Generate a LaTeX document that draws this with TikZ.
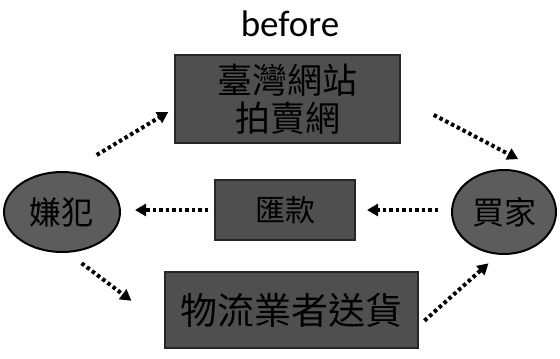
\documentclass[tikz,border=0pt]{standalone}
\usepackage{fontspec}
\setmainfont{Carlito}
\newfontfamily\cjk{Noto Sans CJK TC}
\usetikzlibrary{arrows.meta,shapes.geometric}
\definecolor{boxgray}{HTML}{4F4F4F}
\definecolor{ellgray}{HTML}{5C5C5C}
\tikzset{
  x=1pt,y=-1pt,
  darkbox/.style={draw=black!85,line width=1.5pt,fill=boxgray,inner sep=0pt,
    text=black,align=center},
  party/.style={ellipse,draw=black,line width=2pt,fill=ellgray,inner sep=0pt,
    font=\cjk\fontsize{32}{38}\selectfont,text=black},
  flow/.style={line width=4pt,dash pattern=on 3.5pt off 3pt,
    -{Triangle[length=11pt,width=12pt]},shorten <=2pt,shorten >=2pt},
}
\begin{document}
\begin{tikzpicture}
\useasboundingbox (0,0) rectangle (560,359);
\fill[white] (0,0) rectangle (560,359);
\node[font=\fontsize{37}{42}\selectfont] (title) at (290,24) {before};
\node[darkbox,minimum width=225pt,minimum height=88pt,
  font=\cjk\fontsize{35}{38}\selectfont] (site) at (287.5,99) {臺灣網站\\拍賣網};
\node[darkbox,minimum width=140pt,minimum height=60pt,
  font=\cjk\fontsize{30}{38}\selectfont] (pay) at (285,210) {匯款};
\node[darkbox,minimum width=253pt,minimum height=76pt,
  font=\cjk\fontsize{37}{40}\selectfont] (ship) at (291.5,310) {物流業者送貨};
\node[party,minimum width=116pt,minimum height=80pt] (sus) at (62,212) {嫌犯};
\node[party,minimum width=104pt,minimum height=84pt] (buy) at (504,212) {買家};
\coordinate (a1s) at (95,156); \coordinate (a1e) at (170,111);
\coordinate (a2s) at (432,114); \coordinate (a2e) at (520,160);
\coordinate (a3s) at (440,210); \coordinate (a3e) at (365,210);
\coordinate (a4s) at (210,210); \coordinate (a4e) at (133,210);
\coordinate (a5s) at (80,262); \coordinate (a5e) at (133,302);
\coordinate (a6s) at (423,322); \coordinate (a6e) at (490,262);
\draw[flow] (a1s) -- (a1e);
\draw[flow] (a2s) -- (a2e);
\draw[flow] (a3s) -- (a3e);
\draw[flow] (a4s) -- (a4e);
\draw[flow] (a5s) -- (a5e);
\draw[flow] (a6s) -- (a6e);
\end{tikzpicture}
\end{document}
